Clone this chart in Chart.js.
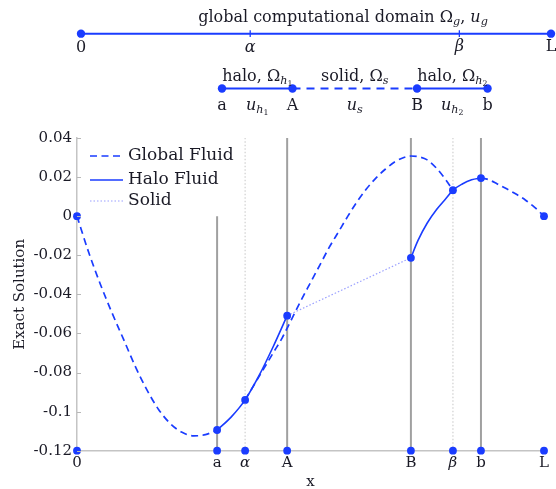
<!DOCTYPE html>
<html><head><meta charset="utf-8">
<script src="https://cdn.jsdelivr.net/npm/chart.js@4.4.1/dist/chart.umd.min.js"></script>
<style>
html,body{margin:0;padding:0;background:#fff;}
#wrap{position:relative;width:556px;height:489px;overflow:hidden;background:#fff;}
#topc{position:absolute;left:0;top:0;}
#mainc{position:absolute;left:0;top:120px;}
.lbl{position:absolute;white-space:nowrap;font-family:"DejaVu Serif";font-size:16px;line-height:1;color:#1a1a26;transform:translate(-50%,-50%);}
.lbl i{font-style:italic;}
.lbl sub{font-size:70%;vertical-align:-0.3em;line-height:0;}
</style></head><body>
<div id="wrap">
<canvas id="topc" width="556" height="120"></canvas>
<canvas id="mainc" width="556" height="369"></canvas>
</div>
<script>
// ---- data ----
const tickValues = [0, 0.3, 0.36, 0.45, 0.715, 0.805, 0.865, 1];
const tickLabels = ['0', 'a', 'α', 'A', 'B', 'β', 'b', 'L'];
const yTickValues = [-0.12, -0.1, -0.08, -0.06, -0.04, -0.02, 0, 0.02, 0.04];
const yTickLabels = ['-0.12', '-0.1', '-0.08', '-0.06', '-0.04', '-0.02', '0', '0.02', '0.04'];

const globalX = [0, 0.025, 0.05, 0.075, 0.1, 0.125, 0.15, 0.175, 0.2, 0.225, 0.25, 0.275, 0.3, 0.33,
  0.36, 0.38, 0.40, 0.42, 0.44, 0.46, 0.48, 0.50, 0.52, 0.54, 0.56, 0.58, 0.60, 0.62, 0.64, 0.66, 0.68, 0.70, 0.715, 0.73, 0.75, 0.77, 0.79, 0.805, 0.835,
  0.865, 0.88, 0.90, 0.92, 0.94, 0.96, 0.98, 1.0];
const globalY = [0, -0.0185, -0.0348, -0.0495, -0.0632, -0.0770, -0.0890, -0.0990, -0.1062, -0.1106, -0.1124, -0.1118, -0.1094, null,
  -0.0940, -0.0860, -0.0780, -0.0700, -0.0620, -0.0525, -0.0430, -0.0340, -0.0250, -0.0160, -0.0080, 0.0000, 0.0075, 0.0140, 0.0195, 0.0240, 0.0277, 0.0300, 0.0308, 0.0305, 0.0288, 0.0245, 0.0185, 0.0133, null,
  0.0195, 0.0188, 0.0165, 0.0140, 0.0113, 0.0083, 0.0045, 0];

const haloX = [0.30, 0.33, 0.36, 0.39, 0.42, 0.45, 0.6, 0.715, 0.73, 0.75, 0.77, 0.79, 0.805, 0.825, 0.845, 0.865];
const haloY = [-0.1094, -0.1028, -0.0940, -0.0815, -0.0668, -0.0509, null, -0.0213, -0.0125, -0.0035, 0.0034, 0.0090, 0.0133, 0.0165, 0.0186, 0.0195];

const solidX = [0.45, 0.715];
const solidY = [-0.0509, -0.0213];

const markerX = [0, 0.3, 0.36, 0.45, 0.715, 0.805, 0.865, 1];
const markerY = [0, -0.1094, -0.0940, -0.0509, -0.0213, 0.0133, 0.0195, 0];

const boundaryX = [0.3, 0.45, 0.715, 0.865];      // a, A, B, b
const boundaryTop = [0, 0.04, 0.04, 0.04];
const interfaceX = [0.36, 0.805];                // alpha, beta
const yMin = -0.12, yMax = 0.04;

// top diagram rows
const rowGlobal = 2, rowSub = 1;

// ---- helpers ----
const BLUE = '#1a3cff';
const TXT = '#1a1a26';
const FONT = 'DejaVu Serif';
const pts = (xs, ys) => xs.map((x, i) => ({x, y: ys[i]}));
function vlines(xs, bottoms, tops) {
  const out = [];
  xs.forEach((x, i) => { out.push({x, y: bottoms[i]}, {x, y: tops[i]}, {x, y: null}); });
  return out;
}

// ---- main chart ----
const legendPlugin = {
  id: 'insideLegend',
  afterDraw(chart) {
    const ctx = chart.ctx;
    const left = chart.chartArea.left;
    const top = chart.chartArea.top;
    const items = [
      {text: 'Global Fluid', color: BLUE, dash: [7, 4.5], width: 1.7},
      {text: 'Halo Fluid', color: BLUE, dash: [], width: 1.6},
      {text: 'Solid', color: '#9aa0ff', dash: [1.5, 2], width: 1.2}
    ];
    const rows = [18, 42, 63];
    ctx.save();
    ctx.font = '17px "' + FONT + '"';
    ctx.textBaseline = 'middle';
    items.forEach((it, i) => {
      const y = top + rows[i];
      ctx.beginPath();
      ctx.setLineDash(it.dash);
      ctx.strokeStyle = it.color;
      ctx.lineWidth = it.width;
      ctx.moveTo(left + 13, y);
      ctx.lineTo(left + 46, y);
      ctx.stroke();
      ctx.setLineDash([]);
      ctx.fillStyle = TXT;
      ctx.fillText(it.text, left + 51, y);
    });
    ctx.restore();
  }
};
const innerTicks = {
  id: 'innerTicks',
  afterDatasetsDraw(chart) {
    const ctx = chart.ctx, ys = chart.scales.y, a = chart.chartArea;
    ctx.save();
    ctx.strokeStyle = '#b8b8b8';
    ctx.lineWidth = 1;
    yTickValues.forEach(v => {
      const p = Math.round(ys.getPixelForValue(v)) + 0.5;
      ctx.beginPath(); ctx.moveTo(a.left, p); ctx.lineTo(a.left + 4, p); ctx.stroke();
    });
    ctx.restore();
  }
};

const mainChart = new Chart(document.getElementById('mainc'), {
  type: 'line',
  data: {
    datasets: [
      {label: 'markers', data: pts(markerX, markerY), showLine: false, pointRadius: 3.9, pointBackgroundColor: BLUE, pointBorderWidth: 0, clip: false, order: 0},
      {label: 'axis points', data: tickValues.map(x => ({x, y: yMin})), showLine: false, pointRadius: 3.9, pointBackgroundColor: BLUE, pointBorderWidth: 0, clip: false, order: 0},
      {label: 'Halo Fluid', data: pts(haloX, haloY), borderColor: BLUE, borderWidth: 1.6, pointRadius: 0, tension: 0.4, cubicInterpolationMode: 'monotone', spanGaps: false, order: 1},
      {label: 'Global Fluid', data: pts(globalX, globalY), borderColor: BLUE, borderWidth: 1.7, borderDash: [7, 4.5], pointRadius: 0, tension: 0.4, cubicInterpolationMode: 'monotone', spanGaps: false, order: 2},
      {label: 'Solid', data: pts(solidX, solidY), borderColor: '#9aa0ff', borderWidth: 1.2, borderDash: [1.5, 2], pointRadius: 0, order: 3},
      {label: 'boundaries', data: vlines(boundaryX, boundaryX.map(() => yMin), boundaryTop), borderColor: '#a0a0a0', borderWidth: 2, pointRadius: 0, spanGaps: false, order: 5},
      {label: 'interfaces', data: vlines(interfaceX, interfaceX.map(() => yMin), interfaceX.map(() => yMax)), borderColor: '#cfcfcf', borderWidth: 1.2, borderDash: [1.5, 2], pointRadius: 0, spanGaps: false, order: 6}
    ]
  },
  options: {
    responsive: false,
    animation: false,
    devicePixelRatio: 1,
    layout: {padding: {top: 18, right: 12, left: 0, bottom: 0}},
    plugins: {legend: {display: false}, tooltip: {enabled: false}},
    elements: {line: {fill: false}},
    scales: {
      x: {
        type: 'linear', min: 0, max: 1,
        afterBuildTicks: s => { s.ticks = tickValues.map(v => ({value: v})); },
        afterFit: s => { s.height = 38.3; s.paddingLeft = 0; s.paddingRight = 0; },
        grid: {display: false, drawTicks: false},
        border: {display: true, color: '#c4c4c4', width: 1.5},
        ticks: {
          autoSkip: false, maxRotation: 0, padding: 3, color: TXT,
          font: c => ({family: FONT, size: 15, style: (c.index === 2 || c.index === 5) ? 'italic' : 'normal'}),
          callback: (v, i) => tickLabels[i]
        },
        title: {display: true, text: 'x', color: TXT, font: {family: FONT, size: 15, lineHeight: 1}, padding: {top: 0, bottom: -1}}
      },
      y: {
        type: 'linear', min: yMin, max: yMax,
        afterBuildTicks: s => { s.ticks = yTickValues.map(v => ({value: v})); },
        afterFit: s => { s.width = 77; s.paddingTop = 0; s.paddingBottom = 0; },
        grid: {display: false, drawTicks: false},
        border: {display: true, color: '#c4c4c4', width: 1.5},
        ticks: {autoSkip: false, padding: 5, color: TXT, font: {family: FONT, size: 15}, callback: (v, i) => yTickLabels[i]},
        title: {display: true, text: 'Exact Solution', color: TXT, font: {family: FONT, size: 15, lineHeight: 1.2}, padding: {top: 11, bottom: 0}}
      }
    }
  },
  plugins: [legendPlugin, innerTicks]
});

// ---- top diagram ----
const topChart = new Chart(document.getElementById('topc'), {
  type: 'line',
  data: {
    datasets: [
      {label: 'global', data: [{x: 0, y: rowGlobal}, {x: 1, y: rowGlobal}], borderColor: BLUE, borderWidth: 2, pointRadius: 4.2, pointBackgroundColor: BLUE, pointBorderWidth: 0, clip: false},
      {label: 'ticks', data: vlines(interfaceX, interfaceX.map(() => rowGlobal - 0.06), interfaceX.map(() => rowGlobal + 0.06)), borderColor: BLUE, borderWidth: 1.3, pointRadius: 0, spanGaps: false, clip: false},
      {label: 'halo1', data: [{x: boundaryX[0], y: rowSub}, {x: boundaryX[1], y: rowSub}], borderColor: BLUE, borderWidth: 2, pointRadius: 4.2, pointBackgroundColor: BLUE, pointBorderWidth: 0, clip: false},
      {label: 'solid', data: [{x: boundaryX[1], y: rowSub}, {x: boundaryX[2], y: rowSub}], borderColor: BLUE, borderWidth: 2, borderDash: [8, 6], pointRadius: 0, clip: false},
      {label: 'halo2', data: [{x: boundaryX[2], y: rowSub}, {x: boundaryX[3], y: rowSub}], borderColor: BLUE, borderWidth: 2, pointRadius: 4.2, pointBackgroundColor: BLUE, pointBorderWidth: 0, clip: false}
    ]
  },
  options: {
    responsive: false, animation: false, devicePixelRatio: 1,
    layout: {padding: {left: 81, right: 5, top: 0, bottom: 0}},
    plugins: {legend: {display: false}, tooltip: {enabled: false}},
    scales: {
      x: {type: 'linear', display: false, min: 0, max: 1},
      y: {type: 'linear', display: false, min: 0.503, max: 2.537}
    }
  }
});

// ---- labels for top diagram ----
const wrap = document.getElementById('wrap');
const sx = v => topChart.scales.x.getPixelForValue(v);
function addLabel(html, x, y) {
  const d = document.createElement('div');
  d.className = 'lbl';
  d.innerHTML = html;
  d.style.left = x + 'px';
  d.style.top = y + 'px';
  wrap.appendChild(d);
}
const [xa, xA, xB, xb] = boundaryX;
const [xal, xbe] = interfaceX;
addLabel('global computational domain Ω<sub><i>g</i></sub>, <i>u</i><sub><i>g</i></sub>', 343, 17);
addLabel('0', sx(0), 46.5);
addLabel('<i>α</i>', sx(xal), 46.5);
addLabel('<i>β</i>', sx(xbe), 46);
addLabel('L', sx(1), 46);
addLabel('halo, Ω<sub><i>h</i><sub>1</sub></sub>', sx((xa + xA) / 2), 76);
addLabel('solid, Ω<sub><i>s</i></sub>', sx((xA + xB) / 2), 76);
addLabel('halo, Ω<sub><i>h</i><sub>2</sub></sub>', sx((xB + xb) / 2), 76);
addLabel('a', sx(xa), 105);
addLabel('A', sx(xA), 105);
addLabel('B', sx(xB), 105);
addLabel('b', sx(xb), 105);
addLabel('<i>u</i><sub><i>h</i><sub>1</sub></sub>', sx((xa + xA) / 2), 105);
addLabel('<i>u</i><sub><i>s</i></sub>', sx((xA + xB) / 2), 105);
addLabel('<i>u</i><sub><i>h</i><sub>2</sub></sub>', sx((xB + xb) / 2), 105);
</script>
</body></html>
